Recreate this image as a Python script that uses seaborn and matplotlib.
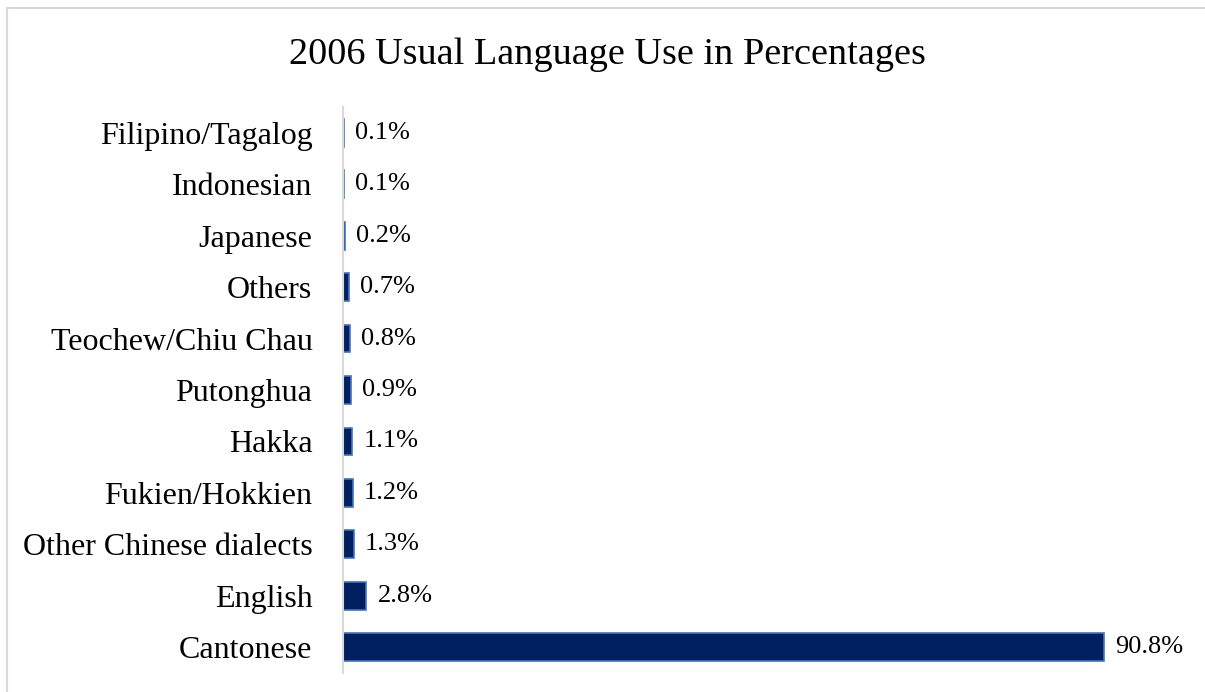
import matplotlib
matplotlib.use("Agg")
import matplotlib.pyplot as plt
import seaborn as sns
import pandas as pd
from matplotlib.lines import Line2D

languages = ["Filipino/Tagalog", "Indonesian", "Japanese", "Others", "Teochew/Chiu Chau",
             "Putonghua", "Hakka", "Fukien/Hokkien", "Other Chinese dialects", "English", "Cantonese"]
percentages = [0.1, 0.1, 0.2, 0.7, 0.8, 0.9, 1.1, 1.2, 1.3, 2.8, 90.8]
title = "2006 Usual Language Use in Percentages"

df = pd.DataFrame({"language": languages, "pct": percentages})

sns.set_theme(style="white")
plt.rcParams["font.family"] = ["Liberation Serif", "DejaVu Serif"]

W, H = 1205, 692
fig = plt.figure(figsize=(W / 100, H / 100), dpi=100)
ax = fig.add_axes([343 / W, 1 - 673 / H, (1190 - 343) / W, (673 - 107) / H])

sns.barplot(data=df, x="pct", y="language", orient="h", order=languages,
            color="#002060", saturation=1, width=0.54, ax=ax,
            edgecolor="#4472C4", linewidth=1.2)

ax.set_xlim(0, (1190 - 343) / ((1104 - 343) / 90.8))
ax.set_ylim(10.5, -0.5)
ax.set_xlabel("")
ax.set_ylabel("")
ax.set_xticks([])
for s in ["top", "right", "bottom"]:
    ax.spines[s].set_visible(False)
ax.spines["left"].set_color("#D9D9D9")
ax.spines["left"].set_linewidth(1.5)
ax.tick_params(axis="y", length=0, pad=22, labelsize=23, labelcolor="#000000")

for cont in ax.containers:
    ax.bar_label(cont, labels=[f"{v:.1f}%" for v in percentages], padding=8,
                 fontsize=19, color="#000000")

fig.text(607 / W, 1 - 55 / H, title, ha="center", va="center", fontsize=27.5, color="#000000")

fig.add_artist(Line2D([7 / W, 7 / W], [0, 1 - 8 / H], transform=fig.transFigure,
                      color="#D9D9D9", linewidth=1.5))
fig.add_artist(Line2D([7 / W, 1], [1 - 8 / H, 1 - 8 / H], transform=fig.transFigure,
                      color="#D9D9D9", linewidth=1.5))

fig.savefig("out.png", dpi=100, facecolor="white")
